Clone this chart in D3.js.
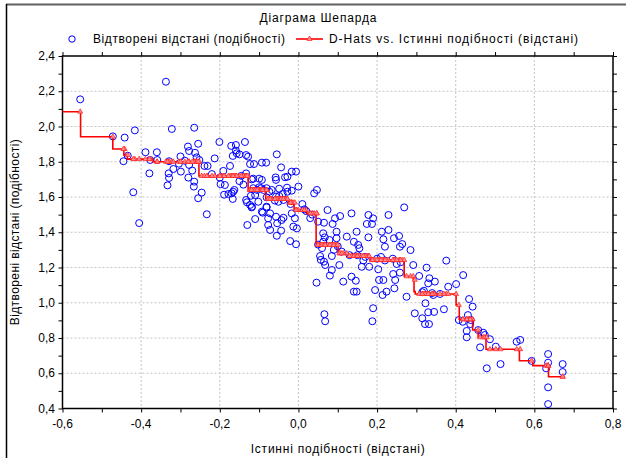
<!DOCTYPE html>
<html>
<head>
<meta charset="utf-8">
<script src="https://cdn.jsdelivr.net/npm/d3@7"></script>
<style>
  body { margin: 0; background: #fff; }
  text { font-family: "Liberation Sans", Arial, sans-serif; fill: #000; }
</style>
</head>
<body>
<svg width="626" height="458"></svg>
<script>
// Відтворені відстані: true similarity (x) vs reproduced distance (y)
const pointX = [
  -0.64, -0.555, -0.337, -0.472, -0.442, -0.416, -0.445, -0.434, -0.42, -0.389, -0.377, -0.36, -0.359, -0.379,
  -0.322, -0.329, -0.318, -0.33, -0.329, -0.333, -0.299, -0.304, -0.289, -0.265, -0.255, -0.281, -0.278,
  -0.263, -0.259, -0.252, -0.278, -0.28, -0.265, -0.266, -0.255, -0.246, -0.239, -0.231, -0.213, -0.201,
  -0.191, -0.174, -0.198, -0.187, -0.189, -0.17, -0.167, -0.163, -0.171, -0.167, -0.159, -0.159, -0.15,
  -0.136, -0.133, -0.128, -0.123, -0.113, -0.133, -0.115, -0.1, -0.093, -0.093, -0.082, -0.055, -0.044,
  -0.058, -0.057, -0.049, -0.029, -0.017, -0.006, -0.028, -0.034, 0.0, -0.081, -0.074, -0.121, -0.11,
  -0.081, -0.123, -0.118, -0.131, -0.081, -0.049, -0.038, -0.15, -0.14, -0.1, -0.095,
  -0.157, -0.119, -0.115, -0.178, -0.166, -0.133, -0.119, -0.102, -0.093, -0.057, -0.051, -0.04, -0.028,
  -0.017, -0.068, -0.089, -0.057, -0.043, -0.054, -0.072,
  -0.233, -0.13, -0.11, -0.091, -0.081, -0.077, -0.077, -0.072, -0.055, -0.044, -0.038, -0.017, -0.013,
  -0.004, -0.021, -0.006, -0.009,
  0.047, 0.04, 0.01, 0.074, 0.05, 0.135, 0.106, 0.093, 0.087, 0.065, 0.063, 0.067, 0.063, 0.079, 0.097,
  0.097, 0.123, 0.148, 0.141, 0.152, 0.155, 0.174, 0.187, 0.178, 0.19, 0.178, 0.229, 0.212, 0.229, 0.216,
  0.22, 0.243, 0.256, 0.264, 0.258, 0.269, 0.285, 0.055, 0.057, 0.065, 0.068, 0.085, 0.085, 0.08, 0.104,
  0.114, 0.046, 0.135, 0.146, 0.141, 0.148, 0.161, 0.18, 0.19, 0.195, 0.203, 0.205, 0.216, 0.214, 0.224,
  0.241, 0.246, 0.244, 0.258, 0.275, 0.292, 0.307, 0.326, 0.333, 0.33, 0.347, 0.319, 0.323, 0.343, 0.376,
  0.381,
  0.02, 0.035, 0.03, 0.05, 0.06, 0.09, 0.1, 0.15, 0.17, 0.2, 0.22, 0.24, 0.26,
  0.066, 0.068, 0.188, -0.405,
  0.419, 0.401, 0.434, 0.443, 0.431, 0.408, 0.418, 0.438, 0.437, 0.428, 0.428, 0.457, 0.47, 0.474, 0.462,
  0.487, 0.502, 0.479, 0.514, 0.555, 0.564, 0.593, 0.635, 0.635, 0.63, 0.672, 0.672, 0.635, 0.635, 0.296,
  0.315, 0.322, 0.332, 0.33, 0.345, 0.37, 0.315, 0.34,
  -0.3, -0.27, -0.22, -0.2, -0.145, -0.105, -0.06, -0.02, 0.015, 0.11, 0.13, 0.165, 0.21, 0.25, 0.36
];
const pointY = [
  2.01, 2.154, 2.254, 1.944, 1.937, 1.978, 1.803, 1.834, 1.627, 1.854, 1.81, 1.854, 1.81, 1.734,
  1.986, 1.803, 1.759, 1.734, 1.708, 1.666, 1.744, 1.789, 1.806, 1.993, 1.902, 1.886, 1.861,
  1.851, 1.825, 1.81, 1.782, 1.71, 1.687, 1.659, 1.593, 1.625, 1.776, 1.776, 1.819, 1.912,
  1.748, 1.776, 1.673, 1.668, 1.613, 1.621, 1.589, 1.64, 1.89, 1.833, 1.895, 1.863, 1.842,
  1.912, 1.838, 1.829, 1.787, 1.787, 1.734, 1.704, 1.704, 1.697, 1.795, 1.795, 1.842, 1.768,
  1.711, 1.697, 1.647, 1.653, 1.744, 1.744, 1.715, 1.712, 1.659, 1.65, 1.63, 1.607, 1.611,
  1.598, 1.555, 1.545, 1.57, 1.545, 1.606, 1.583, 1.69, 1.67, 1.655, 1.65,
  1.848, 1.7, 1.65, 1.617, 1.63, 1.583, 1.541, 1.573, 1.517, 1.602, 1.573, 1.617, 1.63,
  1.636, 1.64, 1.64, 1.488, 1.469, 1.451, 1.507,
  1.502, 1.441, 1.475, 1.511, 1.541, 1.479, 1.441, 1.413, 1.38, 1.409, 1.482, 1.507, 1.432,
  1.422, 1.35, 1.332, 1.479,
  1.64, 1.621, 1.56, 1.526, 1.46, 1.507, 1.492, 1.479, 1.447, 1.454, 1.394, 1.371, 1.346, 1.356, 1.403,
  1.366, 1.375, 1.403, 1.346, 1.328, 1.309, 1.447, 1.447, 1.498, 1.479, 1.371, 1.498, 1.403, 1.413, 1.36,
  1.318, 1.366, 1.379, 1.333, 1.318, 1.541, 1.299, 1.265, 1.243, 1.233, 1.214, 1.265, 1.186, 1.154, 1.214,
  1.12, 1.114, 1.148, 1.125, 1.063, 1.063, 1.204, 1.204, 0.969, 1.072, 1.19, 1.129, 1.129, 1.044, 1.063,
  1.163, 1.129, 1.082, 1.171, 1.034, 1.214, 1.152, 1.199, 1.139, 1.11, 1.12, 1.068, 0.997, 1.044, 1.239,
  1.091,
  1.52, 1.5, 1.48, 1.33, 1.31, 1.3, 1.32, 1.27, 1.26, 1.25, 1.24, 1.25, 1.23,
  0.935, 0.895, 0.895, 1.452,
  1.157, 1.106, 1.021, 0.978, 0.93, 0.902, 0.892, 0.902, 0.879, 0.84, 0.804, 0.845, 0.83, 0.817, 0.747,
  0.793, 0.751, 0.628, 0.652, 0.779, 0.789, 0.67, 0.709, 0.66, 0.628, 0.652, 0.607, 0.52, 0.425, 0.94,
  0.912, 0.879, 0.879, 0.946, 0.948, 0.963, 1.06, 1.055,
  1.83, 1.75, 1.73, 1.71, 1.72, 1.64, 1.58, 1.56, 1.53, 1.29, 1.27, 1.24, 1.26, 1.22, 1.05
];

// D-Hats: monotone step levels (right end of each level, level value)
const levelEndX = [
  -0.554, -0.472, -0.444, -0.435, -0.37, -0.253, -0.128, -0.083, -0.026, -0.011, 0.021, 0.045,
  0.101, 0.126, 0.182, 0.269, 0.292, 0.294, 0.297, 0.401, 0.409, 0.443, 0.457, 0.477, 0.562,
  0.596, 0.636, 0.678
];
const levelY = [
  2.084, 1.942, 1.872, 1.838, 1.815, 1.80, 1.719, 1.64, 1.589, 1.568, 1.526, 1.507,
  1.328, 1.28, 1.265, 1.242, 1.15, 1.13, 1.063, 1.05, 0.987, 0.906, 0.845, 0.804, 0.736,
  0.671, 0.643, 0.58
];

const xTicks = [-0.6, -0.4, -0.2, 0.0, 0.2, 0.4, 0.6, 0.8];
const yTicks = [0.4, 0.6, 0.8, 1.0, 1.2, 1.4, 1.6, 1.8, 2.0, 2.2, 2.4];

const titleText = "Діаграма Шепарда";
const legendNames = ["Відтворені відстані (подібності)", "D-Hats vs. Істинні подібності (відстані)"];
const xTitle = "Істинні подібності (відстані)";
const yTitle = "Відтворені відстані (подібності)";

const svg = d3.select("svg");
const pL = 62.5, pR = 613, pT = 56, pB = 408.5;

const x = d3.scaleLinear().domain([-0.6, 0.8]).range([pL, pR]);
const y = d3.scaleLinear().domain([0.4, 2.4]).range([pB, pT]);
const fmt = v => v.toFixed(1).replace(".", ",");

// outer frame (cut off by the picture at right and bottom)
svg.append("line").attr("x1", 6).attr("x2", 626).attr("y1", 4.5).attr("y2", 4.5)
  .attr("stroke", "#606060").attr("stroke-width", 2);
svg.append("line").attr("x1", 6.5).attr("x2", 6.5).attr("y1", 4).attr("y2", 458)
  .attr("stroke", "#000").attr("stroke-width", 1.5);

// grid
const grid = svg.append("g").attr("stroke", "#c4c4c4").attr("stroke-dasharray", "2,2").attr("stroke-width", 1);
grid.selectAll(".gx").data(xTicks.slice(1, -1)).enter().append("line")
  .attr("x1", d => x(d)).attr("x2", d => x(d)).attr("y1", pT).attr("y2", pB);
grid.selectAll(".gy").data(yTicks.slice(1, -1)).enter().append("line")
  .attr("x1", pL).attr("x2", pR).attr("y1", d => y(d)).attr("y2", d => y(d));

// ticks on all four sides, pointing inward
const minorX = d3.range(-0.6, 0.801, 0.1);
const minorY = d3.range(0.4, 2.401, 0.1);
svg.append("g").call(d3.axisTop(x).tickValues(minorX).tickSize(-4).tickFormat(""))
  .attr("transform", `translate(0,${pB})`).call(g => g.select(".domain").remove());
svg.append("g").call(d3.axisBottom(x).tickValues(minorX).tickSize(-4).tickFormat(""))
  .attr("transform", `translate(0,${pT})`).call(g => g.select(".domain").remove());
svg.append("g").call(d3.axisRight(y).tickValues(minorY).tickSize(-4).tickFormat(""))
  .attr("transform", `translate(${pL},0)`).call(g => g.select(".domain").remove());
svg.append("g").call(d3.axisLeft(y).tickValues(minorY).tickSize(-4).tickFormat(""))
  .attr("transform", `translate(${pR},0)`).call(g => g.select(".domain").remove());

// tick labels
svg.append("g").selectAll("text").data(xTicks).enter().append("text")
  .attr("x", d => x(d)).attr("y", 428).attr("text-anchor", "middle")
  .style("font-size", "12px").text(fmt);
svg.append("g").selectAll("text").data(yTicks).enter().append("text")
  .attr("x", 55).attr("y", d => y(d) + 4).attr("text-anchor", "end")
  .style("font-size", "12px").text(fmt);

// plot frame
svg.append("rect").attr("x", pL).attr("y", pT)
  .attr("width", pR - pL).attr("height", pB - pT)
  .attr("fill", "none").attr("stroke", "#000").attr("stroke-width", 1.5);

svg.append("clipPath").attr("id", "plotclip").append("rect")
  .attr("x", pL).attr("y", pT).attr("width", pR - pL).attr("height", pB - pT);
const plot = svg.append("g").attr("clip-path", "url(#plotclip)");

const points = pointX.map((v, i) => ({ x: v, y: pointY[i] }));

// scatter
plot.selectAll(".pt").data(points).enter().append("circle")
  .attr("class", "pt")
  .attr("cx", d => x(d.x)).attr("cy", d => y(d.y)).attr("r", 3.5)
  .attr("fill", "none").attr("stroke", "#0000ff").attr("stroke-width", 1);

// D-hats step line
const steps = [{ x: -0.66, y: levelY[0] }].concat(levelEndX.map((v, i) => ({ x: v, y: levelY[i] })));
plot.append("path").datum(steps)
  .attr("d", d3.line().x(d => x(d.x)).y(d => y(d.y)).curve(d3.curveStepBefore))
  .attr("fill", "none").attr("stroke", "#ff0000").attr("stroke-width", 1.6);

const dhat = v => {
  const i = levelEndX.findIndex(e => v <= e + 0.002);
  return levelY[i < 0 ? levelY.length - 1 : i];
};
const tri = d3.symbol().type(d3.symbolTriangle).size(11);
plot.selectAll(".mk").data(points).enter().append("path")
  .attr("class", "mk")
  .attr("transform", d => `translate(${x(d.x)},${y(dhat(d.x))})`)
  .attr("d", tri)
  .attr("fill", "#ff9090").attr("stroke", "#ff2020").attr("stroke-width", 0.7);

// title
svg.append("text").attr("x", 318).attr("y", 22).attr("text-anchor", "middle")
  .attr("textLength", 117).attr("lengthAdjust", "spacing")
  .style("font-size", "12px").text(titleText);

// legend
const lg = svg.append("g");
lg.append("circle").attr("cx", 72).attr("cy", 39).attr("r", 3.2)
  .attr("fill", "none").attr("stroke", "#0000ff").attr("stroke-width", 1);
lg.append("text").attr("x", 93).attr("y", 43).style("font-size", "12px")
  .attr("textLength", 192).attr("lengthAdjust", "spacing").text(legendNames[0]);
lg.append("line").attr("x1", 296).attr("x2", 323).attr("y1", 39).attr("y2", 39)
  .attr("stroke", "#ff0000").attr("stroke-width", 1.6);
lg.append("path").attr("transform", "translate(309.5,39)").attr("d", tri)
  .attr("fill", "#ff9090").attr("stroke", "#ff2020").attr("stroke-width", 0.7);
lg.append("text").attr("x", 329).attr("y", 43).style("font-size", "12px")
  .attr("textLength", 249).attr("lengthAdjust", "spacing").text(legendNames[1]);

// axis titles
svg.append("text").attr("x", (pL + pR) / 2).attr("y", 453).attr("text-anchor", "middle")
  .attr("textLength", 174).attr("lengthAdjust", "spacing")
  .style("font-size", "12px").text(xTitle);
svg.append("text").attr("transform", `translate(19,${(pT + pB) / 2}) rotate(-90)`)
  .attr("text-anchor", "middle").attr("textLength", 186).attr("lengthAdjust", "spacing")
  .style("font-size", "12px").text(yTitle);
</script>
</body>
</html>
